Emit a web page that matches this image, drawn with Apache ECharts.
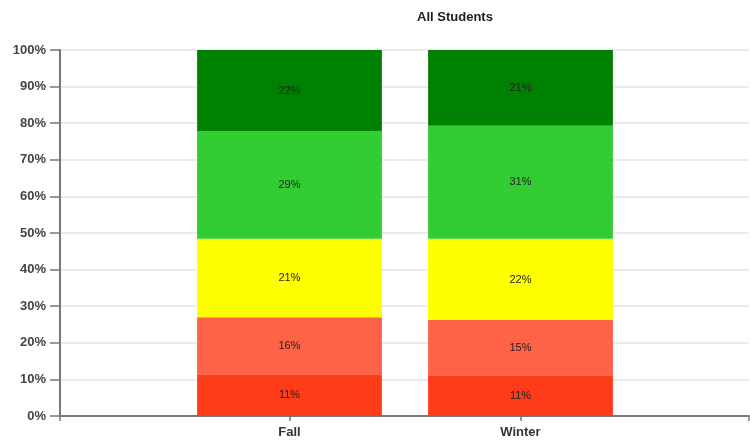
<!DOCTYPE html>
<html>
<head>
<meta charset="utf-8">
<script src="https://cdn.jsdelivr.net/npm/echarts@6/dist/echarts.min.js"></script>
<style>
  html, body { margin: 0; padding: 0; background: #fff; }
  #chart { width: 750px; height: 441px; }
</style>
</head>
<body>
<div id="chart"></div>
<script>
// Terms and share of students in each performance band (percent, bottom to top)
const terms = ['Fall', 'Winter'];
const band1 = [11.4, 11.1];   // lowest band
const band2 = [15.6, 15.1];
const band3 = [21.4, 22.2];
const band4 = [29.4, 30.9];
const band5 = [22.2, 20.7];   // highest band
const bandColors = ['#ff3c1a', '#ff6347', '#ffff00', '#32cd32', '#008000'];
const yTicks = [0, 10, 20, 30, 40, 50, 60, 70, 80, 90, 100];

const bands = [band1, band2, band3, band4, band5];
const font = 'Liberation Sans, Arial, sans-serif';
const axisColor = '#777';

const chart = echarts.init(document.getElementById('chart'), null, { renderer: 'canvas' });

chart.setOption({
  animation: false,
  title: {
    text: 'All Students',
    left: 450,
    top: 6,
    textAlign: 'center',
    textStyle: { fontFamily: font, fontSize: 13, fontWeight: 'bold', color: '#222' }
  },
  grid: [
    { left: 60, right: 1, top: 50, bottom: 25 },
    { left: 174, width: 462, top: 50, bottom: 25 }
  ],
  xAxis: [
    {
      gridIndex: 0, type: 'value', min: 0, max: 1, interval: 1,
      axisLine: { show: true, lineStyle: { color: axisColor, width: 2 } },
      axisTick: { show: true, length: 5, lineStyle: { color: axisColor, width: 1.5 } },
      axisLabel: { show: false },
      splitLine: { show: false }
    },
    {
      gridIndex: 1, type: 'category', data: terms,
      axisLine: { show: false },
      axisTick: { show: true, alignWithLabel: true, length: 5, lineStyle: { color: axisColor, width: 1.5 } },
      axisLabel: { margin: 10, fontFamily: font, fontSize: 13, fontWeight: 'bold', color: '#333' }
    }
  ],
  yAxis: [
    {
      gridIndex: 0, type: 'value', min: 0, max: 100, interval: 10,
      axisLine: { show: true, lineStyle: { color: axisColor, width: 2 } },
      axisTick: { show: true, length: 10, lineStyle: { color: axisColor, width: 1.5 } },
      axisLabel: {
        margin: 14,
        fontFamily: font, fontSize: 13, fontWeight: 'bold', color: '#444',
        formatter: v => (yTicks.includes(v) ? v + '%' : '')
      },
      splitLine: { show: true, lineStyle: { color: '#e4e4e4', width: 1.5 } }
    },
    {
      gridIndex: 1, type: 'value', min: 0, max: 100, interval: 10,
      axisLine: { show: false }, axisTick: { show: false },
      axisLabel: { show: false }, splitLine: { show: false }
    }
  ],
  series: bands.map((vals, i) => ({
    type: 'bar',
    xAxisIndex: 1,
    yAxisIndex: 1,
    stack: 'total',
    barCategoryGap: '20%',
    data: vals,
    itemStyle: { color: bandColors[i] },
    label: {
      show: true,
      position: 'inside',
      fontFamily: font,
      fontSize: 11,
      color: '#222',
      formatter: p => Math.round(p.value) + '%'
    }
  }))
});
</script>
</body>
</html>
